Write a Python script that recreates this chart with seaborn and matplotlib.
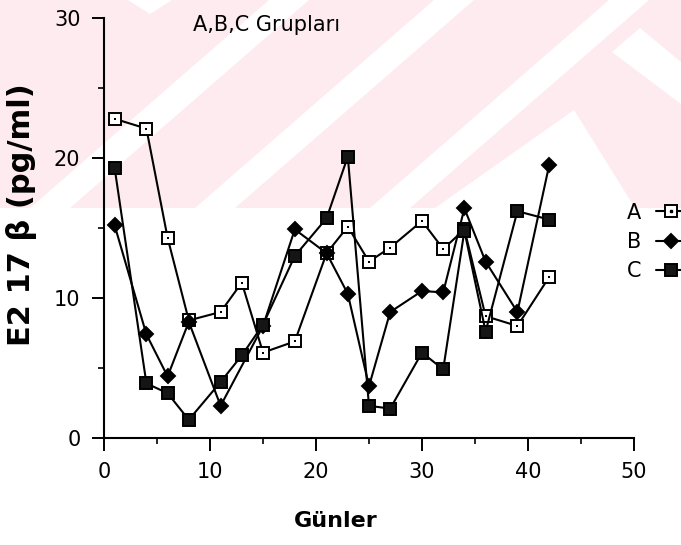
import seaborn as sns
import matplotlib.pyplot as plt
from matplotlib.patches import Polygon
from matplotlib.lines import Line2D
from matplotlib.ticker import MultipleLocator

# values
days = [1, 4, 6, 8, 11, 13, 15, 18, 21, 23, 25, 27, 30, 32, 34, 36, 39, 42]
days_b = [1, 4, 6, 8, 11, 15, 18, 21, 23, 25, 27, 30, 32, 34, 36, 39, 42]
grup_a = [22.8, 22.1, 14.3, 8.4, 9.0, 11.1, 6.1, 6.9, 13.2, 15.1, 12.6, 13.6,
          15.5, 13.5, 14.9, 8.7, 8.0, 11.5]
grup_b = [15.2, 7.4, 4.4, 8.3, 2.3, 8.0, 14.9, 13.2, 10.3, 3.7, 9.0, 10.5,
          10.4, 16.4, 12.6, 9.0, 19.5]
grup_c = [19.3, 3.9, 3.2, 1.3, 4.0, 5.9, 8.1, 13.0, 15.7, 20.1, 2.3, 2.1,
          6.1, 4.9, 14.8, 7.6, 16.2, 15.6]
labels = ["A", "B", "C"]

sns.set_style("ticks")
plt.rcParams['font.family'] = ['DejaVu Sans']
plt.rcParams['text.color'] = 'black'

W, H = 681, 545
fig = plt.figure(figsize=(W / 100, H / 100), dpi=100)


def px(x, y):
    return (x / W, 1 - y / H)


# faint pink watermark in the upper part of the page
def shape(points, color):
    fig.add_artist(Polygon([px(x, y) for x, y in points], closed=True,
                           transform=fig.transFigure, fc=color, ec='none',
                           zorder=-5))


pink = '#fdebef'
shape([(0, 0), (681, 0), (681, 208), (0, 208)], pink)
for b in [30, 195, 370]:
    shape([(b + 239, 0), (b + 279, 0), (b + 40, 208), (b, 208)], 'white')
shape([(574, 110), (635, 208), (435, 208)], 'white')
shape([(128, 0), (172, 0), (150, 14)], 'white')
shape([(612, 52), (640, 28), (681, 62), (681, 104)], 'white')

ax = fig.add_axes([104 / W, 1 - 438 / H, 530 / W, 420 / H])
ax.set_facecolor('none')

line_kw = dict(color='black', lw=1.5, mec='black', mew=1.4)
sns.lineplot(x=days, y=grup_a, ax=ax, marker='s', ms=9, mfc='white',
             zorder=2, **line_kw)
sns.scatterplot(x=days, y=grup_a, ax=ax, marker='s', s=3, color='black',
                linewidth=0, zorder=2.1)
sns.lineplot(x=days_b, y=grup_b, ax=ax, marker='D', ms=7.5, mfc='black',
             zorder=2.2, **line_kw)
sns.lineplot(x=days, y=grup_c, ax=ax, marker='s', ms=9, mfc='#151515',
             zorder=2.3, **line_kw)

ax.set_xlim(0, 50)
ax.set_ylim(0, 30)
ax.xaxis.set_major_locator(MultipleLocator(10))
ax.xaxis.set_minor_locator(MultipleLocator(5))
ax.yaxis.set_major_locator(MultipleLocator(10))
ax.yaxis.set_minor_locator(MultipleLocator(5))
ax.tick_params(which='major', length=9, width=1.4, labelsize=15, pad=8,
               color='black', labelcolor='black')
ax.tick_params(which='minor', length=4, width=1.2, color='black')
sns.despine(ax=ax)
for s in ['left', 'bottom']:
    ax.spines[s].set_linewidth(1.5)
    ax.spines[s].set_color('black')
ax.set_xlabel('')
ax.set_ylabel('')

# legend: label first, then line + marker
h_a = (Line2D([], [], marker='s', ms=9, mfc='white', **line_kw),
       Line2D([], [], marker='s', ms=1.5, color='black', lw=0))
h_b = Line2D([], [], marker='D', ms=7.5, mfc='black', **line_kw)
h_c = Line2D([], [], marker='s', ms=9, mfc='#151515', **line_kw)
leg = fig.legend([h_a, h_b, h_c], labels, loc='center left',
                 bbox_to_anchor=px(627, 242), bbox_transform=fig.transFigure,
                 markerfirst=False, frameon=False, fontsize=15, borderpad=0,
                 borderaxespad=0, handlelength=1.4, handletextpad=0.7,
                 labelspacing=0.45)
for t in leg.get_texts():
    t.set_color('black')

fig.text(*px(193, 25), 'A,B,C Grupları', fontsize=15, ha='left',
         va='center', color='black')
fig.text(*px(22, 215), 'E2 17 β (pg/ml)', fontsize=22, fontweight='bold',
         rotation=90, ha='center', va='center', color='black')
fig.text(*px(336, 521), 'Günler', fontsize=16, fontweight='bold',
         ha='center', va='center', color='black')

fig.savefig('out.png', dpi=100)
